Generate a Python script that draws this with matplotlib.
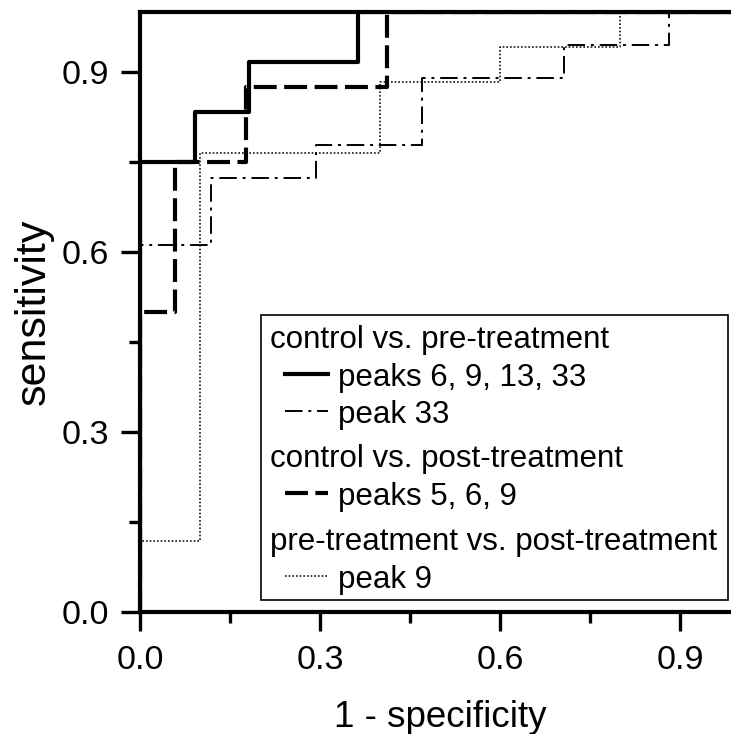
import matplotlib
matplotlib.use('Agg')
import matplotlib.pyplot as plt  # plotting
import matplotlib.patches as mpatches
from matplotlib.ticker import MultipleLocator

plt.rcParams['font.family'] = ['Liberation Sans', 'DejaVu Sans']

### ROC curve vertices (1 - specificity, sensitivity)
# control vs. pre-treatment, peaks 6, 9, 13, 33
fpr_pre_multi = [0, 0, 1/11, 1/11, 2/11, 2/11, 4/11, 4/11, 1]
tpr_pre_multi = [0, 9/12, 9/12, 10/12, 10/12, 11/12, 11/12, 1, 1]
# control vs. pre-treatment, peak 33
fpr_pre_33 = [0, 0, 2/17, 2/17, 5/17, 5/17, 8/17, 8/17, 12/17, 12/17, 15/17, 15/17, 1]
tpr_pre_33 = [0, 11/18, 11/18, 13/18, 13/18, 14/18, 14/18, 16/18, 16/18, 17/18, 17/18, 1, 1]
# control vs. post-treatment, peaks 5, 6, 9
fpr_post_multi = [0, 0, 1/17, 1/17, 3/17, 3/17, 7/17, 7/17, 1]
tpr_post_multi = [0, 4/8, 4/8, 6/8, 6/8, 7/8, 7/8, 1, 1]
# pre-treatment vs. post-treatment, peak 9
fpr_prepost_9 = [0, 0, 0.1, 0.1, 0.4, 0.4, 0.6, 0.6, 0.8, 0.8, 1]
tpr_prepost_9 = [0, 2/17, 2/17, 13/17, 13/17, 15/17, 15/17, 16/17, 16/17, 1, 1]

x_ticks = [0.0, 0.3, 0.6, 0.9]
y_ticks = [0.0, 0.3, 0.6, 0.9]

### line styles
style_solid = dict(color='black', linewidth=3.0, linestyle='-')
style_dashdot = dict(color='black', linewidth=1.4, linestyle=(0, (9, 3, 1.5, 3)))
style_dashed = dict(color='black', linewidth=3.0, linestyle=(0, (5.5, 1.8)))
style_dotted = dict(color='black', linewidth=1.1, linestyle=(0, (1.1, 1.3)))

fig = plt.figure(figsize=(7.31, 7.34), dpi=100)
# right edge of the axes lies past the figure border (as in the cropped original)
ax = fig.add_axes([140/731, (734 - 611.7)/734, 600/731, 600/734])

ax.plot(fpr_prepost_9, tpr_prepost_9, **style_dotted)
ax.plot(fpr_pre_33, tpr_pre_33, **style_dashdot)
ax.plot(fpr_post_multi, tpr_post_multi, **style_dashed)
ax.plot(fpr_pre_multi, tpr_pre_multi, **style_solid)

ax.set_xlim(0, 1.0)
ax.set_ylim(0, 1.0)
ax.set_xticks(x_ticks)
ax.set_yticks(y_ticks)
ax.set_xticklabels(['%.1f' % t for t in x_ticks])
ax.set_yticklabels(['%.1f' % t for t in y_ticks])
ax.xaxis.set_minor_locator(MultipleLocator(0.15))
ax.yaxis.set_minor_locator(MultipleLocator(0.15))
ax.tick_params(which='major', direction='out', length=13.5, width=2.4, labelsize=24.5)
ax.tick_params(axis='x', which='major', pad=10.5)
ax.tick_params(axis='y', which='major', pad=9)
ax.tick_params(which='minor', direction='out', length=8, width=2.4)
for side in ['left', 'bottom', 'top', 'right']:
    ax.spines[side].set_linewidth(3.0)

fig.text(440/731, (734 - 727)/734, '1 - specificity', fontsize=26.5, ha='center', va='baseline')
fig.text(34/731, (734 - 312)/734, 'sensitivity', fontsize=31, rotation=90, ha='center', va='center')

### legend drawn by hand (headers without handle, entries indented)
box = mpatches.Rectangle((0.2017, 0.0195), 0.98 - 0.2017, 0.4945 - 0.0195, transform=ax.transAxes,
                         facecolor='white', edgecolor='black', linewidth=1.2, zorder=5)
ax.add_patch(box)

leg_size = 22.5
x_head = 0.2167
x_h0, x_h1 = 0.2417, 0.3133
x_txt = 0.33
rows = [
    ('control vs. pre-treatment', None, 0.4395),
    ('peaks 6, 9, 13, 33', style_solid, 0.376),
    ('peak 33', style_dashdot, 0.3145),
    ('control vs. post-treatment', None, 0.2412),
    ('peaks 5, 6, 9', style_dashed, 0.1778),
    ('pre-treatment vs. post-treatment', None, 0.1028),
    ('peak 9', style_dotted, 0.0395),
]
for label, style, yb in rows:
    if style is None:
        ax.text(x_head, yb, label, transform=ax.transAxes, fontsize=leg_size, va='baseline', zorder=6)
    else:
        ax.plot([x_h0, x_h1], [yb + 0.0205, yb + 0.0205], transform=ax.transAxes, zorder=6, **style)
        ax.text(x_txt, yb, label, transform=ax.transAxes, fontsize=leg_size, va='baseline', zorder=6)

plt.savefig('out.png', dpi=100)
